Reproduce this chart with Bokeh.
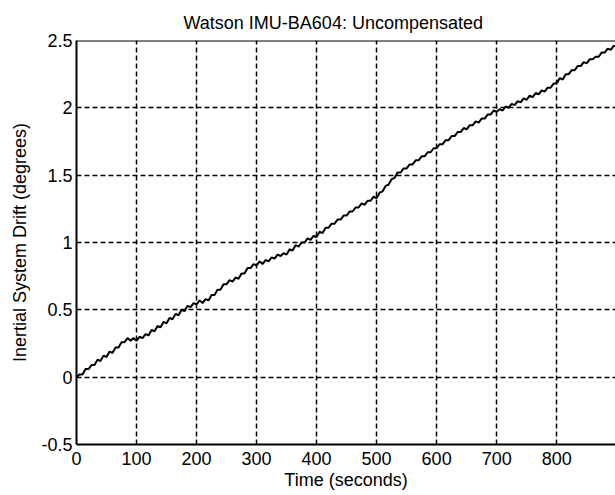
from bokeh.plotting import figure
from bokeh.models import Range1d, FixedTicker, Span
from bokeh.embed import file_html
from bokeh.resources import INLINE

# ---- data ----
title_text = "Watson IMU-BA604: Uncompensated"
x_label = "Time (seconds)"
y_label = "Inertial System Drift (degrees)"

x_ticks = [0, 100, 200, 300, 400, 500, 600, 700, 800]
x_tick_labels = ["0", "100", "200", "300", "400", "500", "600", "700", "800"]
y_ticks = [-0.5, 0.0, 0.5, 1.0, 1.5, 2.0, 2.5]
y_tick_labels = ["-0.5", "0", "0.5", "1", "1.5", "2", "2.5"]
x_limits = [0, 898]
y_limits = [-0.5, 2.5]

time_s = list(range(0, 900, 5)) + [898]
drift_deg = [
    0.00, 0.02, 0.02, 0.06, 0.06, 0.09, 0.09, 0.13, 0.12, 0.16,
    0.15, 0.19, 0.18, 0.22, 0.22, 0.26, 0.26, 0.29, 0.27, 0.29,
    0.27, 0.30, 0.29, 0.32, 0.31, 0.35, 0.34, 0.38, 0.37, 0.41,
    0.40, 0.44, 0.43, 0.47, 0.46, 0.50, 0.49, 0.53, 0.52, 0.55,
    0.54, 0.57, 0.55, 0.58, 0.57, 0.61, 0.61, 0.65, 0.65, 0.69,
    0.69, 0.72, 0.71, 0.74, 0.73, 0.77, 0.77, 0.81, 0.81, 0.84,
    0.83, 0.86, 0.84, 0.87, 0.86, 0.89, 0.88, 0.91, 0.90, 0.92,
    0.91, 0.95, 0.94, 0.98, 0.97, 1.00, 1.00, 1.03, 1.02, 1.05,
    1.04, 1.08, 1.07, 1.11, 1.11, 1.14, 1.14, 1.17, 1.17, 1.20,
    1.20, 1.23, 1.23, 1.26, 1.26, 1.29, 1.28, 1.31, 1.31, 1.34,
    1.33, 1.37, 1.38, 1.42, 1.43, 1.47, 1.48, 1.52, 1.52, 1.55,
    1.55, 1.58, 1.58, 1.61, 1.61, 1.64, 1.64, 1.67, 1.67, 1.70,
    1.70, 1.73, 1.73, 1.76, 1.76, 1.79, 1.79, 1.82, 1.82, 1.85,
    1.84, 1.87, 1.87, 1.90, 1.89, 1.92, 1.92, 1.95, 1.95, 1.98,
    1.97, 1.99, 1.98, 2.01, 2.00, 2.03, 2.02, 2.05, 2.04, 2.07,
    2.06, 2.09, 2.08, 2.11, 2.10, 2.13, 2.12, 2.15, 2.15, 2.18,
    2.18, 2.22, 2.21, 2.25, 2.25, 2.28, 2.28, 2.31, 2.31, 2.34,
    2.33, 2.36, 2.36, 2.38, 2.38, 2.41, 2.41, 2.44, 2.43, 2.46,
    2.46,
]

FONT = "Liberation Sans"

p = figure(
    width=615, height=495,
    x_range=Range1d(*x_limits), y_range=Range1d(*y_limits),
    output_backend="svg", toolbar_location=None,
    min_border_left=76, min_border_right=0, min_border_top=40, min_border_bottom=51,
)
p.outline_line_color = None
p.background_fill_color = "white"
p.border_fill_color = "white"

p.title.text = title_text
p.title.text_font = FONT
p.title.text_font_size = "18px"
p.title.text_font_style = "normal"
p.title.text_color = "black"
p.title.align = "left"
p.title.offset = 107
p.title.standoff = 16

for ax in (p.xaxis[0], p.yaxis[0]):
    ax.axis_line_color = "black"
    ax.axis_line_width = 2
    ax.major_tick_line_color = None
    ax.minor_tick_line_color = None
    ax.major_tick_in = 0
    ax.major_tick_out = 0
    ax.minor_tick_in = 0
    ax.minor_tick_out = 0
    ax.major_label_text_font = FONT
    ax.major_label_text_font_size = "18px"
    ax.major_label_text_color = "black"
    ax.axis_label_text_font = FONT
    ax.axis_label_text_font_size = "18px"
    ax.axis_label_text_font_style = "normal"
    ax.axis_label_text_color = "black"

p.xaxis.ticker = FixedTicker(ticks=x_ticks)
p.xaxis.major_label_overrides = dict(zip(x_ticks, x_tick_labels))
p.xaxis.major_label_standoff = 7
p.xaxis.axis_label = x_label
p.xaxis.axis_label_standoff = 2

p.yaxis.ticker = FixedTicker(ticks=y_ticks)
p.yaxis.major_label_overrides = dict(zip(y_ticks, y_tick_labels))
p.yaxis.major_label_standoff = 4
p.yaxis.axis_label = y_label
p.yaxis.axis_label_standoff = 8

for g in (p.xgrid[0], p.ygrid[0]):
    g.grid_line_color = "black"
    g.grid_line_width = 1.5
    g.grid_line_dash = "5 3"
    g.grid_line_alpha = 1.0
p.xgrid.ticker = FixedTicker(ticks=x_ticks)
p.ygrid.ticker = FixedTicker(ticks=y_ticks)

p.add_layout(Span(location=y_limits[1], dimension="width", line_color="black", line_width=2))

p.line(time_s, drift_deg, line_color="black", line_width=2)

open("out.html", "w").write(file_html(p, INLINE))
